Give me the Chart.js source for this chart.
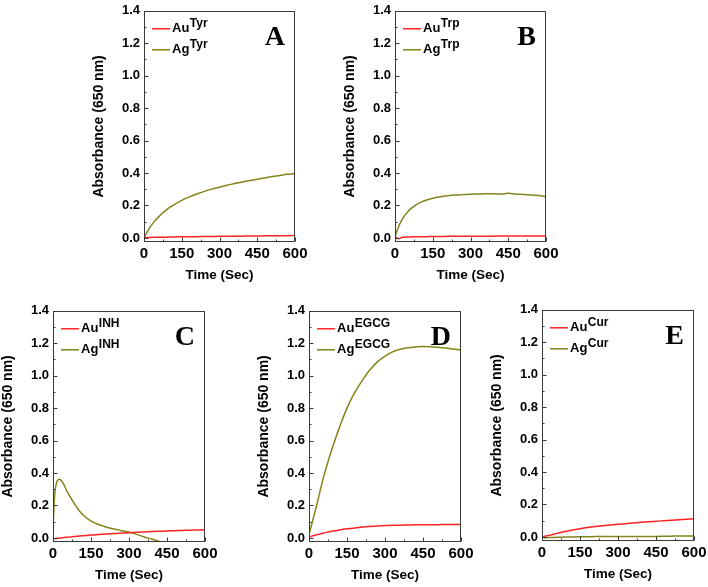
<!DOCTYPE html>
<html>
<head>
<meta charset="utf-8">
<script src="https://cdn.jsdelivr.net/npm/chart.js@4.4.0/dist/chart.umd.min.js"></script>
<style>
  html, body { margin: 0; padding: 0; background: #fff; }
  body { width: 708px; height: 587px; position: relative; overflow: hidden; }
  .panel { position: absolute; }
</style>
</head>
<body>
<script>
// 时间轴 (Sec)
const timeSec = [0, 5, 10, 15, 20, 25, 30, 40, 50, 60, 75, 90, 105, 120, 150, 180, 210, 240, 270, 300, 330, 360, 390, 420, 450, 480, 510, 540, 570, 600];
const xTicks = [0, 150, 300, 450, 600];
const yTicks = [0.0, 0.2, 0.4, 0.6, 0.8, 1.0, 1.2, 1.4];
const panelLetters = ['A', 'B', 'C', 'D', 'E'];
const ligands = ['Tyr', 'Trp', 'INH', 'EGCG', 'Cur'];

// A: Tyr
const auTyr = [0.002, 0.002, 0.002, 0.003, 0.003, 0.003, 0.003, 0.004, 0.004, 0.004, 0.005, 0.005, 0.006, 0.006, 0.007, 0.008, 0.008, 0.009, 0.009, 0.010, 0.010, 0.011, 0.011, 0.012, 0.012, 0.013, 0.013, 0.014, 0.014, 0.015];
const agTyr = [0.000, 0.016, 0.030, 0.043, 0.056, 0.068, 0.079, 0.099, 0.117, 0.133, 0.155, 0.174, 0.191, 0.206, 0.232, 0.253, 0.271, 0.287, 0.301, 0.313, 0.325, 0.335, 0.345, 0.354, 0.362, 0.370, 0.378, 0.385, 0.392, 0.398];
// B: Trp
const auTrp = [0.006, 0.003, -0.003, -0.005, -0.002, 0.002, 0.004, 0.005, 0.006, 0.006, 0.007, 0.007, 0.008, 0.008, 0.009, 0.009, 0.010, 0.010, 0.010, 0.011, 0.011, 0.011, 0.011, 0.012, 0.012, 0.012, 0.012, 0.012, 0.012, 0.012];
const agTrp = [0.005, 0.030, 0.052, 0.072, 0.090, 0.105, 0.118, 0.142, 0.160, 0.176, 0.195, 0.210, 0.222, 0.231, 0.245, 0.254, 0.260, 0.264, 0.267, 0.270, 0.271, 0.272, 0.272, 0.271, 0.275, 0.270, 0.268, 0.265, 0.261, 0.256];
// C: INH
const auInh = [-0.006, -0.005, -0.004, -0.003, -0.002, -0.001, 0.000, 0.002, 0.004, 0.005, 0.008, 0.010, 0.012, 0.014, 0.018, 0.021, 0.024, 0.027, 0.030, 0.032, 0.035, 0.037, 0.039, 0.041, 0.043, 0.045, 0.046, 0.048, 0.049, 0.050];
const agInh = [0.060, 0.230, 0.310, 0.345, 0.358, 0.362, 0.358, 0.338, 0.305, 0.275, 0.235, 0.198, 0.165, 0.140, 0.103, 0.083, 0.068, 0.055, 0.045, 0.036, 0.022, 0.006, -0.007, -0.022, -0.034, -0.045, -0.055, -0.065, -0.075, -0.085];
// D: EGCG
const auEgcg = [0.005, 0.008, 0.011, 0.013, 0.015, 0.017, 0.019, 0.023, 0.027, 0.031, 0.036, 0.041, 0.045, 0.049, 0.056, 0.062, 0.067, 0.071, 0.074, 0.076, 0.078, 0.079, 0.080, 0.081, 0.082, 0.082, 0.082, 0.083, 0.083, 0.083];
const agEgcg = [0.020, 0.050, 0.080, 0.110, 0.140, 0.170, 0.200, 0.265, 0.330, 0.390, 0.470, 0.545, 0.615, 0.680, 0.800, 0.895, 0.970, 1.035, 1.085, 1.120, 1.147, 1.163, 1.172, 1.177, 1.180, 1.179, 1.175, 1.170, 1.164, 1.158];
// E: Cur
const auCur = [0.000, 0.002, 0.004, 0.006, 0.007, 0.009, 0.010, 0.014, 0.018, 0.022, 0.028, 0.033, 0.038, 0.043, 0.051, 0.058, 0.064, 0.069, 0.074, 0.078, 0.082, 0.086, 0.090, 0.093, 0.097, 0.100, 0.103, 0.106, 0.109, 0.112];
const agCur = [0.000, -0.003, -0.004, -0.005, -0.005, -0.004, -0.004, -0.003, -0.003, -0.002, -0.002, -0.001, -0.001, 0.000, 0.001, 0.001, 0.002, 0.002, 0.002, 0.002, 0.003, 0.003, 0.003, 0.003, 0.003, 0.004, 0.005, 0.006, 0.006, 0.006];

const auSeries = [auTyr, auTrp, auInh, auEgcg, auCur];
const agSeries = [agTyr, agTrp, agInh, agEgcg, agCur];

// 每个子图的绘图区位置 (页面像素)
const plotBoxes = [
  { x: 144, y: 9, w: 151, h: 233 },
  { x: 395, y: 9, w: 151, h: 233 },
  { x: 53, y: 309, w: 152, h: 233 },
  { x: 309, y: 309, w: 152, h: 233 },
  { x: 542, y: 308, w: 152, h: 233 }
];
const Y_AXIS_W = 57;
const X_AXIS_H = 43;
const PAD_TOP = 10;
const PAD_RIGHT = 16;

const SANS = 'Arial, "Liberation Sans", sans-serif';
const RED = '#ff2222';
const OLIVE = '#84841a';

Chart.defaults.font.family = SANS;
Chart.defaults.color = '#000';

// 边框、内向刻度、图例和字母
const panelDecor = {
  id: 'panelDecor',
  afterDraw(chart, args, opts) {
    const { ctx, chartArea: a } = chart;
    const xs = chart.scales.x;
    const ys = chart.scales.y;
    const L = Math.round(a.left) + 0.5, R = Math.round(a.right) - 0.5;
    const T = Math.round(a.top) + 0.5, B = Math.round(a.bottom) - 0.5;
    ctx.save();
    ctx.strokeStyle = '#3a3a3a';
    ctx.lineWidth = 1;
    ctx.strokeRect(L, T, R - L, B - T);

    ctx.beginPath();
    xTicks.forEach((v, i) => {
      const px = Math.round(xs.getPixelForValue(v)) + 0.5;
      ctx.moveTo(px, B); ctx.lineTo(px, B - 4);
      if (i < xTicks.length - 1) {
        const mx = Math.round(xs.getPixelForValue((v + xTicks[i + 1]) / 2)) + 0.5;
        ctx.moveTo(mx, B); ctx.lineTo(mx, B - 2);
      }
    });
    yTicks.forEach((v, i) => {
      const py = Math.round(ys.getPixelForValue(v)) + 0.5;
      ctx.moveTo(L, py); ctx.lineTo(L + 4, py);
      if (i < yTicks.length - 1) {
        const my = Math.round(ys.getPixelForValue((v + yTicks[i + 1]) / 2)) + 0.5;
        ctx.moveTo(L, my); ctx.lineTo(L + 2, my);
      }
    });
    ctx.stroke();

    // 图例
    chart.data.datasets.forEach((ds, i) => {
      const y = a.top + 18 + i * 21;
      ctx.strokeStyle = ds.borderColor;
      ctx.lineWidth = 1.5;
      ctx.beginPath();
      ctx.moveTo(a.left + 8, y);
      ctx.lineTo(a.left + 26, y);
      ctx.stroke();
      ctx.fillStyle = '#000';
      ctx.textBaseline = 'middle';
      ctx.textAlign = 'left';
      ctx.font = 'bold 13px ' + SANS;
      ctx.fillText(ds.baseName, a.left + 28, y);
      const w = ctx.measureText(ds.baseName).width;
      ctx.font = 'bold 12px ' + SANS;
      ctx.fillText(ds.supName, a.left + 28 + w + 0.5, y - 5);
    });

    // 子图字母
    ctx.font = 'bold 28px "Liberation Serif", "Times New Roman", serif';
    ctx.textAlign = 'right';
    ctx.textBaseline = 'alphabetic';
    ctx.fillStyle = '#000';
    ctx.fillText(opts.letter, a.right - 10, a.top + 34);
    ctx.restore();
  }
};

function makePanel(idx) {
  const box = plotBoxes[idx];
  const div = document.createElement('div');
  div.className = 'panel';
  const cw = Y_AXIS_W + box.w + PAD_RIGHT;
  const ch = PAD_TOP + box.h + X_AXIS_H;
  div.style.left = (box.x - Y_AXIS_W) + 'px';
  div.style.top = (box.y - PAD_TOP) + 'px';
  div.style.width = cw + 'px';
  div.style.height = ch + 'px';
  const canvas = document.createElement('canvas');
  canvas.width = cw;
  canvas.height = ch;
  div.appendChild(canvas);
  document.body.appendChild(div);

  const toPoints = arr => timeSec.map((t, i) => ({ x: t, y: arr[i] }));

  new Chart(canvas.getContext('2d'), {
    type: 'line',
    data: {
      datasets: [
        {
          label: 'Au' + ligands[idx],
          baseName: 'Au',
          supName: ligands[idx],
          data: toPoints(auSeries[idx]),
          borderColor: RED,
          borderWidth: 1.5,
          pointRadius: 0,
          cubicInterpolationMode: 'monotone',
          fill: false
        },
        {
          label: 'Ag' + ligands[idx],
          baseName: 'Ag',
          supName: ligands[idx],
          data: toPoints(agSeries[idx]),
          borderColor: OLIVE,
          borderWidth: 1.5,
          pointRadius: 0,
          cubicInterpolationMode: 'monotone',
          fill: false
        }
      ]
    },
    options: {
      responsive: false,
      animation: false,
      events: [],
      layout: { padding: { top: PAD_TOP, right: PAD_RIGHT, left: 0, bottom: 0 } },
      plugins: {
        legend: { display: false },
        tooltip: { enabled: false },
        title: { display: false },
        panelDecor: { letter: panelLetters[idx] }
      },
      scales: {
        x: {
          type: 'linear',
          min: 0,
          max: 600,
          afterBuildTicks: s => { s.ticks = xTicks.map(v => ({ value: v })); },
          afterFit: s => { s.height = X_AXIS_H; },
          grid: { display: false, drawTicks: false },
          border: { display: false },
          ticks: {
            padding: 3,
            maxRotation: 0,
            font: { size: 15, weight: 'bold' },
            color: '#000',
            callback: v => String(v)
          },
          title: {
            display: true,
            text: 'Time (Sec)',
            font: { size: 13.5, weight: 'bold' },
            color: '#000',
            padding: { top: 0, bottom: 2 }
          }
        },
        y: {
          type: 'linear',
          min: -0.025,
          max: 1.4,
          afterBuildTicks: s => { s.ticks = yTicks.map(v => ({ value: v })); },
          afterFit: s => { s.width = Y_AXIS_W; },
          grid: { display: false, drawTicks: false },
          border: { display: false },
          ticks: {
            padding: 4,
            font: { size: 13, weight: 'bold' },
            color: '#000',
            callback: v => Number(v).toFixed(1)
          },
          title: {
            display: true,
            text: 'Absorbance (650 nm)',
            font: { size: 14, weight: 'bold' },
            color: '#000',
            padding: { top: 4, bottom: 0 }
          }
        }
      }
    },
    plugins: [panelDecor]
  });
}

for (let i = 0; i < plotBoxes.length; i++) {
  makePanel(i);
}
</script>
</body>
</html>
